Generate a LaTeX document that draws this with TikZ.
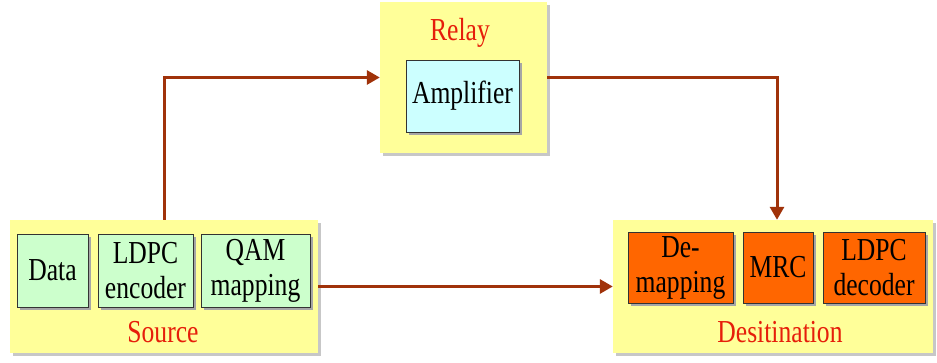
\documentclass[tikz,border=0pt]{standalone}
\usepackage{fontspec}
\setmainfont[FakeStretch=0.8]{Liberation Serif}
\usetikzlibrary{arrows.meta,shadows,positioning}
\definecolor{panelyellow}{RGB}{255,255,153}
\definecolor{txgreen}{RGB}{204,255,204}
\definecolor{ampcyan}{RGB}{204,255,255}
\definecolor{rxorange}{RGB}{255,102,0}
\definecolor{labelred}{RGB}{230,30,10}
\definecolor{linkbrown}{RGB}{160,50,10}
\tikzstyle{panel} = [fill=panelyellow, inner sep=0pt, drop shadow={shadow xshift=3pt, shadow yshift=-3pt, fill=black!22, opacity=1}]
\tikzstyle{block} = [draw=black!80, line width=0.8pt, inner sep=0pt, align=center, drop shadow={shadow xshift=3pt, shadow yshift=-3pt, fill=black!35, opacity=1}]
\tikzstyle{title} = [text=labelred]
\tikzstyle{arrow} = [line width=3pt, draw=linkbrown, -{Triangle[length=13pt,width=14pt]}]

\begin{document}
\begin{tikzpicture}[x=1pt, y=1pt, font=\fontsize{32}{35}\selectfont]
    \useasboundingbox (0,0) rectangle (937,363);

    % the three stations
    \node (source) [panel, minimum width=308pt, minimum height=133pt] at (164,76.5) {};
    \node (relay) [panel, minimum width=167pt, minimum height=151pt] at (463.5,285.5) {};
    \node (dest) [panel, minimum width=320pt, minimum height=133pt] at (773,76.5) {};

    % source chain
    \node (data) [block, fill=txgreen, minimum width=71pt, minimum height=73pt] at (52.5,92.5) {Data};
    \node (enc) [block, fill=txgreen, minimum width=95pt, minimum height=73pt] at (145.5,92.5) {LDPC\\encoder};
    \node (qam) [block, fill=txgreen, minimum width=109pt, minimum height=73pt] at (255.5,92.5) {QAM\\mapping};
    \node (source_label) [title] at (163,31) {Source};

    % relay
    \node (amp) [block, fill=ampcyan, minimum width=113pt, minimum height=72pt] at (462.5,267) {Amplifier};
    \node (relay_label) [title] at (460,330) {Relay};

    % destination chain
    \node (demap) [block, fill=rxorange, minimum width=105pt, minimum height=71pt] at (680.5,95.5) {De-\\mapping};
    \node (mrc) [block, fill=rxorange, minimum width=70pt, minimum height=71pt] at (778,95.5) {MRC};
    \node (dec) [block, fill=rxorange, minimum width=102pt, minimum height=71pt] at (874,95.5) {LDPC\\decoder};
    \node (dest_label) [title] at (780,31) {Desitination};

    \draw [arrow] (source.north) |- (relay.west);
    \draw [arrow] (relay.east) -| ([xshift=4pt]dest.north);
    \draw [arrow] (source.east) -- (dest.west);

\end{tikzpicture}
\end{document}
